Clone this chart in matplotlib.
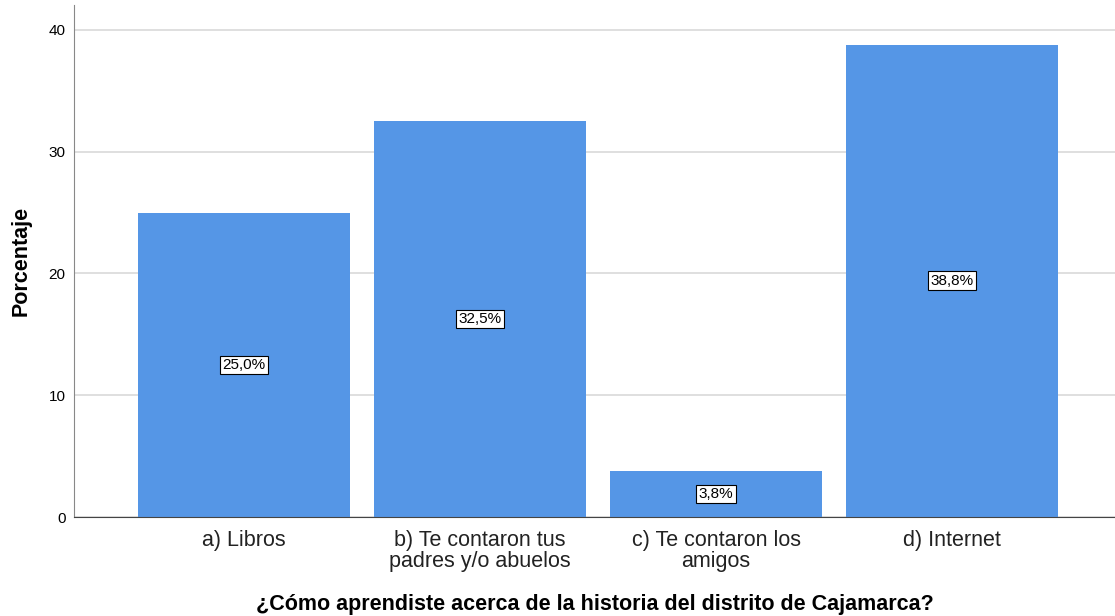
import matplotlib
matplotlib.use('Agg')
import matplotlib.pyplot as plt

plt.rcParams['font.family'] = ['Liberation Sans', 'DejaVu Sans']

# data
categories = ['a) Libros', 'b) Te contaron tus\npadres y/o abuelos',
              'c) Te contaron los\namigos', 'd) Internet']
percentages = [25.0, 32.5, 3.8, 38.8]
value_labels = ['25,0%', '32,5%', '3,8%', '38,8%']
y_ticks = [0, 10, 20, 30, 40]

fig = plt.figure(figsize=(11.15, 6.16), dpi=100)
ax = fig.add_axes([0.0664, 0.1607, 0.9336, 0.8312])

x = list(range(len(categories)))
ax.bar(x, percentages, width=0.897, color='#5596E6', zorder=2)

for xi, v, lab in zip(x, percentages, value_labels):
    ax.text(xi, v / 2, lab, ha='center', va='center', fontsize=11, color='black', zorder=3,
            bbox=dict(boxstyle='square,pad=0.15', facecolor='white', edgecolor='black', linewidth=0.8))

ax.set_xlim(-0.72, 3.69)
ax.set_ylim(0, 42.05)
ax.set_yticks(y_ticks)
ax.set_yticklabels([str(t) for t in y_ticks], fontsize=11)
ax.set_xticks(x)
ax.set_xticklabels(categories, fontsize=15.5, color='#222222', linespacing=1.03)
ax.tick_params(axis='both', length=0, pad=6)
ax.tick_params(axis='x', pad=9)

ax.yaxis.grid(True, color='#d9d9d9', linewidth=1.2, zorder=0)
ax.set_axisbelow(True)

for s in ['top', 'right']:
    ax.spines[s].set_visible(False)
ax.spines['left'].set_color('#888888')
ax.spines['bottom'].set_color('#444444')

ax.set_ylabel('Porcentaje', fontsize=15.5, fontweight='bold', labelpad=12)
ax.set_xlabel('¿Cómo aprendiste acerca de la historia del distrito de Cajamarca?',
              fontsize=15.5, fontweight='bold', labelpad=16)

fig.savefig('out.png', dpi=100)
